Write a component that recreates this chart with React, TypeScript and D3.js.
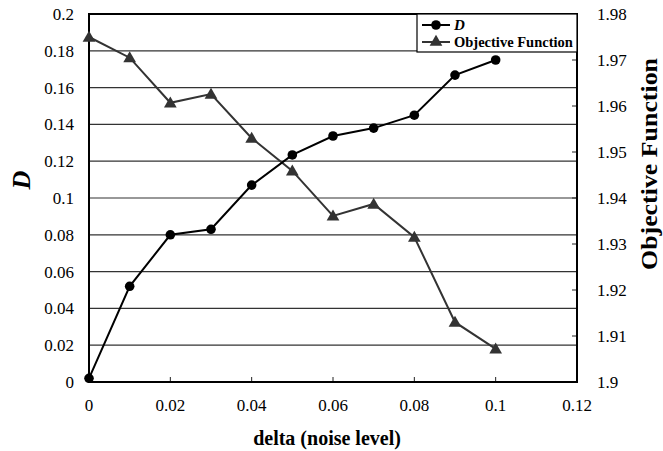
import React from "react";
import * as d3 from "d3";

const deltas = [0, 0.01, 0.02, 0.03, 0.04, 0.05, 0.06, 0.07, 0.08, 0.09, 0.1];
const dValues = [0.002, 0.052, 0.08, 0.083, 0.107, 0.1234, 0.1337, 0.138, 0.145, 0.1668, 0.175];
const objValues = [1.975, 1.9705, 1.9607, 1.9626, 1.953, 1.9459, 1.9361, 1.9387, 1.9315, 1.913, 1.9072];
const xTicks = [0, 0.02, 0.04, 0.06, 0.08, 0.1, 0.12];
const leftTicks = [0, 0.02, 0.04, 0.06, 0.08, 0.1, 0.12, 0.14, 0.16, 0.18, 0.2];
const rightTicks = [1.9, 1.91, 1.92, 1.93, 1.94, 1.95, 1.96, 1.97, 1.98];
const xLabel = "delta (noise level)";
const leftLabel = "D";
const rightLabel = "Objective Function";
const legendLabels = ["D", "Objective Function"];

const W = 663, H = 451;
const L = 89, R = 577, T = 14, B = 382;
const FONT = "Liberation Serif, DejaVu Serif, serif";

export default function App() {
  const x = d3.scaleLinear().domain([0, 0.12]).range([L, R]);
  const yL = d3.scaleLinear().domain([0, 0.2]).range([B, T]);
  const yR = d3.scaleLinear().domain([1.9, 1.98]).range([B, T]);
  const lineD = d3.line<number>().x((_, i) => x(deltas[i])).y((v) => yL(v));
  const lineO = d3.line<number>().x((_, i) => x(deltas[i])).y((v) => yR(v));
  const tri = d3.symbol().type(d3.symbolTriangle).size(70)() as string;
  const fmtL = (v: number) => (v === 0 ? "0" : String(+v.toFixed(2)));
  const fmtR = (v: number) => String(+v.toFixed(2));
  const ts: React.CSSProperties = { fontFamily: FONT };

  return (
    <svg width={W} height={H} style={{ position: "absolute", left: 0, top: 0, background: "#fff", fontFamily: FONT }}>
      <rect x={0} y={0} width={W} height={H} fill="#fff" />
      {leftTicks.slice(1, -1).map((t) => (
        <line key={t} x1={L} x2={R} y1={yL(t)} y2={yL(t)} stroke="#333" strokeWidth={1.2} />
      ))}
      {xTicks.slice(1, -1).map((t) => (
        <line key={t} x1={x(t)} x2={x(t)} y1={B} y2={B - 5} stroke="#222" strokeWidth={1} />
      ))}
      {rightTicks.slice(1, -1).map((t) => (
        <line key={t} x1={R} x2={R - 5} y1={yR(t)} y2={yR(t)} stroke="#222" strokeWidth={1} />
      ))}
      <rect x={L} y={T} width={R - L} height={B - T} fill="none" stroke="#000" strokeWidth={2} />
      <path d={lineO(objValues) as string} fill="none" stroke="#333" strokeWidth={2} />
      {objValues.map((v, i) => (
        <path key={i} d={tri} transform={`translate(${x(deltas[i])},${yR(v) + 1})`} fill="#333" />
      ))}
      <path d={lineD(dValues) as string} fill="none" stroke="#000" strokeWidth={2} />
      {dValues.map((v, i) => (
        <circle key={i} cx={x(deltas[i])} cy={yL(v)} r={4.8} fill="#000" />
      ))}
      {leftTicks.map((t) => (
        <text key={t} style={ts} x={74} y={yL(t)} dy="0.35em" textAnchor="end" fontSize={17}>{fmtL(t)}</text>
      ))}
      {rightTicks.map((t) => (
        <text key={t} style={ts} x={597} y={yR(t)} dy="0.35em" textAnchor="start" fontSize={17}>{fmtR(t)}</text>
      ))}
      {xTicks.map((t) => (
        <text key={t} style={ts} x={x(t)} y={411} textAnchor="middle" fontSize={17}>{fmtL(t)}</text>
      ))}
      <text style={ts} x={327} y={445} textAnchor="middle" fontSize={20} fontWeight="bold">{xLabel}</text>
      <text style={ts} transform="translate(30,180) rotate(-90)" textAnchor="middle" fontSize={26} fontWeight="bold" fontStyle="italic">{leftLabel}</text>
      <text style={ts} transform="translate(657,164) rotate(-90)" textAnchor="middle" fontSize={24} fontWeight="bold" textLength={212} lengthAdjust="spacingAndGlyphs">{rightLabel}</text>
      <rect x={417} y={T} width={R - 417} height={38} fill="#fff" stroke="#000" strokeWidth={1.2} />
      <line x1={422} x2={450} y1={25} y2={25} stroke="#000" strokeWidth={2} />
      <circle cx={436} cy={25} r={4.8} fill="#000" />
      <text style={ts} x={454} y={25} dy="0.35em" fontSize={15} fontWeight="bold" fontStyle="italic">{legendLabels[0]}</text>
      <line x1={422} x2={450} y1={42} y2={42} stroke="#333" strokeWidth={2} />
      <path d={tri} transform={`translate(436,42)`} fill="#333" />
      <text style={ts} x={454} y={42} dy="0.35em" fontSize={14.5} fontWeight="bold">{legendLabels[1]}</text>
    </svg>
  );
}
